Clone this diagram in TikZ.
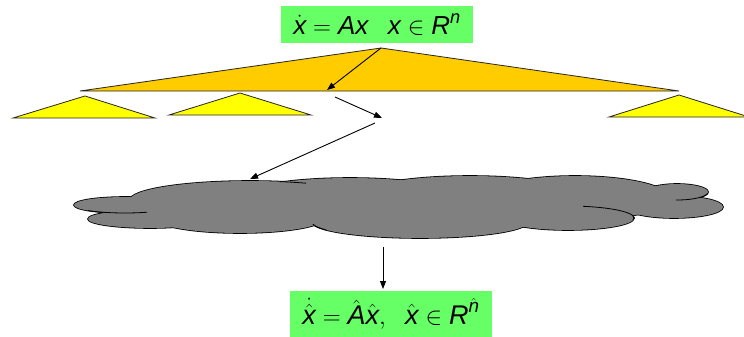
\documentclass[tikz,border=0pt]{standalone}
\usepackage{amsmath}
\usepackage{fontspec}
\setmainfont{Liberation Sans}
\usetikzlibrary{arrows.meta}
\definecolor{boxgreen}{RGB}{102,255,102}
\definecolor{bigorange}{RGB}{255,204,0}
\definecolor{smallyellow}{RGB}{255,255,0}
\definecolor{cloudgray}{RGB}{128,128,128}
\newcommand\vi[1]{\text{\itshape #1}}
\begin{document}
\begin{tikzpicture}[x=1pt,y=-1pt,
  eqbox/.style={fill=boxgreen, inner sep=0pt},
  bigtri/.style={fill=bigorange, draw=black!85, line width=0.8pt},
  smalltri/.style={fill=smallyellow, draw=black!85, line width=0.8pt},
  conn/.style={-{Triangle[length=8pt,width=6pt]}, line width=0.9pt},
  cloudedge/.style={draw=black, fill=cloudgray, line width=1.6pt},
  cloudinner/.style={draw=black, line width=0.8pt},
]
\useasboundingbox (0,0) rectangle (744,337);

% equation boxes
\node[eqbox, minimum width=192pt, minimum height=37pt, font=\fontsize{26}{30}\selectfont] (top) at (377,24.5)
  {$\dot{\vi{x}} = \vi{A}\vi{x}\hskip0.75em \vi{x}\in \vi{R}^{\vi{n}}$};
\node[eqbox, minimum width=202pt, minimum height=46pt, font=\fontsize{27}{31}\selectfont] (bottom) at (391,314)
  {$\dot{\hat{\vi{x}}} = \hat{\vi{A}}\hat{\vi{x}},\ \ \hat{\vi{x}}\in \vi{R}^{\hat{\vi{n}}}$};

% big triangle
\coordinate (bigapex) at (381,48);
\coordinate (bigleft) at (80,91);
\coordinate (bigright) at (679,91);
\draw[bigtri] (bigapex) -- (bigleft) -- (bigright) -- cycle;

% small triangles
\draw[smalltri] (85,96) coordinate (t1apex) -- (13,118) -- (155,118) -- cycle;
\draw[smalltri] (240,93) coordinate (t2apex) -- (169,115) -- (311,115) -- cycle;
\draw[smalltri] (679,95) coordinate (t3apex) -- (609,117) -- (749,117) -- cycle;

% cloud: outline pass then fill pass
\def\cloudlobes{125/205/51/8, 150/219/62/9, 250/200/120/19, 240/218/85/15,
  350/197/110/19, 420/222/108/16, 470/195/110/19, 575/198/95/22,
  677/192/31/8, 674/207/49/11, 568/218/66/12}
\foreach \cx/\cy/\rx/\ry in \cloudlobes
  \path[cloudedge] (\cx,\cy) ellipse [x radius=\rx pt, y radius=\ry pt];
\foreach \cx/\cy/\rx/\ry in \cloudlobes
  \fill[cloudgray] (\cx,\cy) ellipse [x radius=\rx pt, y radius=\ry pt];
% inner arcs of the cloud
\begin{scope}
  \clip (88,208) rectangle (147,216);
  \draw[cloudinner] (125,205) ellipse [x radius=51pt, y radius=8pt];
\end{scope}
\begin{scope}
  \clip (280,178) rectangle (306,190);
  \draw[cloudinner] (250,200) ellipse [x radius=120pt, y radius=19pt];
\end{scope}
\begin{scope}
  \clip (312,224) rectangle (326,236);
  \draw[cloudinner] (420,222) ellipse [x radius=108pt, y radius=16pt];
\end{scope}
\begin{scope}
  \clip (583,204) rectangle (634,219);
  \draw[cloudinner] (568,218) ellipse [x radius=66pt, y radius=12pt];
\end{scope}
\begin{scope}
  \clip (676,193) rectangle (710,203);
  \draw[cloudinner] (677,192) ellipse [x radius=31pt, y radius=8pt];
\end{scope}
\coordinate (cloudtop) at (250,179);

% connectors
\coordinate (a1end) at (327,90);
\coordinate (a2start) at (335,97);
\coordinate (a2end) at (382,118);
\coordinate (a3start) at (375,123);
\coordinate (a4start) at (383,247);
\coordinate (a4end) at (383,289);
\draw[conn] (bigapex) -- (a1end);
\draw[conn] (a2start) -- (a2end);
\draw[conn] (a3start) -- (cloudtop);
\draw[conn] (a4start) -- (a4end);
\end{tikzpicture}
\end{document}
